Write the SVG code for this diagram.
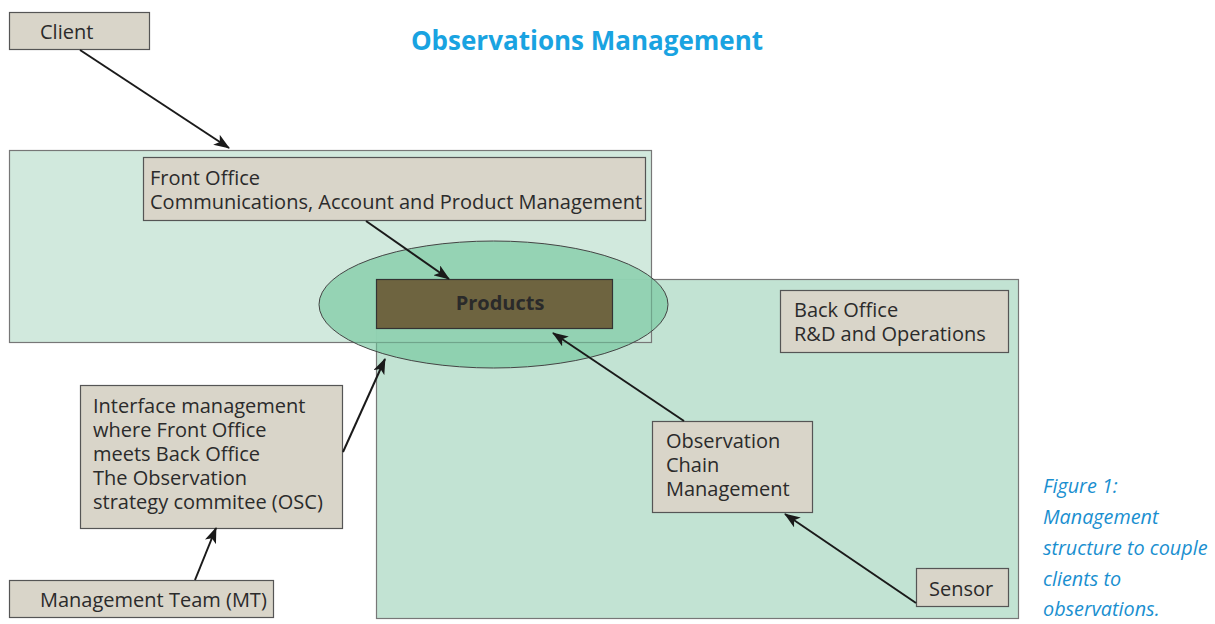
<svg xmlns="http://www.w3.org/2000/svg" width="1215" height="624" viewBox="0 0 1215 624">
  <defs>
    <marker id="arrow" viewBox="0 0 16 12" refX="15" refY="6" markerWidth="16" markerHeight="12" markerUnits="userSpaceOnUse" orient="auto">
      <path d="M0,0 L16,6 L0,12 L4,6 Z" fill="#1a1a1a"/>
    </marker>
    <style>
      .box { fill: #d9d5c9; stroke: #555; stroke-width: 1.2; }
      .region { stroke: #777; stroke-width: 1.2; }
      .lbl { font-family: "Open Sans", "Liberation Sans", sans-serif; font-size: 20px; fill: #2b2b2b; }
      .conn { stroke: #1a1a1a; stroke-width: 2; fill: none; marker-end: url(#arrow); }
      .cap { font-family: "Open Sans", "Liberation Sans", sans-serif; font-style: italic; font-size: 19.8px; fill: #1a8fd0; }
    </style>
  </defs>
  <rect width="1215" height="624" fill="#fff"/>

  <text x="587" y="50" text-anchor="middle" font-family="'Open Sans', 'Liberation Sans', sans-serif" font-weight="bold" font-size="26" fill="#19a3e1">Observations Management</text>

  <!-- office regions -->
  <g id="back-office-region">
    <rect class="region" x="376.5" y="279.5" width="642" height="339" fill="#c2e3d3"/>
  </g>
  <g id="front-office-region">
    <rect class="region" x="9.5" y="150.5" width="642" height="192" fill="#cde7da" fill-opacity="0.92"/>
  </g>

  <g id="products-ellipse">
    <ellipse cx="493.5" cy="304.5" rx="174.5" ry="63.5" fill="#6cc59a" fill-opacity="0.6" stroke="#444" stroke-width="1"/>
  </g>
  <g id="products">
    <rect x="376.5" y="279.5" width="236" height="49" fill="#6e6440" stroke="#333" stroke-width="1.2"/>
    <text x="500" y="310" text-anchor="middle" font-family="'Open Sans', 'Liberation Sans', sans-serif" font-weight="bold" font-size="20" fill="#2a2a2a">Products</text>
  </g>

  <g id="client">
    <rect class="box" x="9.5" y="12.5" width="140" height="37"/>
    <text class="lbl" x="40" y="39">Client</text>
  </g>
  <g id="front-office">
    <rect class="box" x="143.5" y="157.5" width="502" height="63"/>
    <text class="lbl" x="150" y="185">Front Office</text>
    <text class="lbl" x="150" y="209">Communications, Account and Product Management</text>
  </g>
  <g id="back-office">
    <rect class="box" x="780.5" y="290.5" width="228" height="62"/>
    <text class="lbl" x="794" y="317">Back Office</text>
    <text class="lbl" x="794" y="341">R&amp;D and Operations</text>
  </g>
  <g id="interface-management">
    <rect class="box" x="80.5" y="385.5" width="262" height="143"/>
    <text class="lbl" x="93" y="413">Interface management</text>
    <text class="lbl" x="93" y="437">where Front Office</text>
    <text class="lbl" x="93" y="461">meets Back Office</text>
    <text class="lbl" x="93" y="485">The Observation</text>
    <text class="lbl" x="93" y="509">strategy commitee (OSC)</text>
  </g>
  <g id="management-team">
    <rect class="box" x="9.5" y="580.5" width="264" height="37"/>
    <text class="lbl" x="40" y="607">Management Team (MT)</text>
  </g>
  <g id="observation-chain">
    <rect class="box" x="652.5" y="421.5" width="160" height="91"/>
    <text class="lbl" x="666" y="448">Observation</text>
    <text class="lbl" x="666" y="472">Chain</text>
    <text class="lbl" x="666" y="496">Management</text>
  </g>
  <g id="sensor">
    <rect class="box" x="916.5" y="568.5" width="92" height="38"/>
    <text class="lbl" x="929" y="596">Sensor</text>
  </g>

  <g id="connectors">
    <line class="conn" x1="80" y1="50" x2="229" y2="148"/>
    <line class="conn" x1="366" y1="221" x2="449" y2="279"/>
    <line class="conn" x1="343" y1="452" x2="385" y2="359"/>
    <line class="conn" x1="195" y1="580" x2="216" y2="528"/>
    <line class="conn" x1="684" y1="421" x2="553" y2="333"/>
    <line class="conn" x1="916" y1="603" x2="785" y2="514"/>
  </g>

  <g id="caption">
    <text class="cap" x="1043" y="493">Figure 1:</text>
    <text class="cap" x="1043" y="524">Management</text>
    <text class="cap" x="1043" y="555">structure to couple</text>
    <text class="cap" x="1043" y="586">clients to</text>
    <text class="cap" x="1043" y="616">observations.</text>
  </g>
</svg>
